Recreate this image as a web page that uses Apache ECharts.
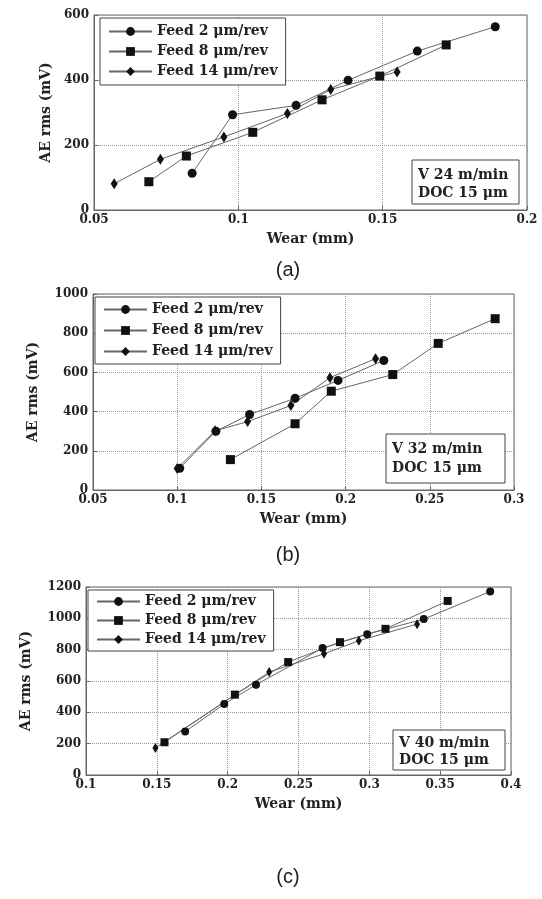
<!DOCTYPE html>
<html>
<head>
<meta charset="utf-8">
<script src="https://cdn.jsdelivr.net/npm/echarts@6/dist/echarts.min.js"></script>
<style>
  html, body { margin: 0; padding: 0; background: #fff; }
  #chart { width: 542px; height: 899px; }
</style>
</head>
<body>
<div id="chart"></div>
<script>
// legend names
const feedNames = ['Feed 2 μm/rev', 'Feed 8 μm/rev', 'Feed 14 μm/rev'];

// (a) V 24 m/min
const aFeed2X = [0.084, 0.098, 0.120, 0.138, 0.162, 0.189];
const aFeed2Y = [113, 293, 322, 399, 489, 564];
const aFeed8X = [0.069, 0.082, 0.105, 0.129, 0.149, 0.172];
const aFeed8Y = [87, 166, 239, 339, 412, 508];
const aFeed14X = [0.057, 0.073, 0.095, 0.117, 0.132, 0.155];
const aFeed14Y = [81, 156, 225, 297, 371, 425];

// (b) V 32 m/min
const bFeed2X = [0.1015, 0.123, 0.143, 0.170, 0.1955, 0.2227];
const bFeed2Y = [111, 300, 385, 468, 559, 661];
const bFeed8X = [0.1316, 0.170, 0.1915, 0.228, 0.255, 0.2888];
const bFeed8Y = [155, 338, 504, 589, 748, 874];
const bFeed14X = [0.100, 0.1225, 0.1418, 0.1675, 0.1907, 0.2178];
const bFeed14Y = [110, 302, 349, 431, 573, 670];

// (c) V 40 m/min
const cFeed2X = [0.170, 0.1976, 0.220, 0.267, 0.2985, 0.3384, 0.3853];
const cFeed2Y = [277, 453, 576, 810, 899, 995, 1171];
const cFeed8X = [0.1554, 0.2051, 0.2427, 0.2793, 0.3114, 0.3553];
const cFeed8Y = [209, 513, 721, 848, 933, 1111];
const cFeed14X = [0.149, 0.2293, 0.268, 0.2926, 0.3337];
const cFeed14Y = [173, 657, 774, 857, 963];

// axis ranges
const xRanges = [[0.05, 0.2], [0.05, 0.3], [0.1, 0.4]];
const yRanges = [[0, 600], [0, 1000], [0, 1200]];

const serif = 'DejaVu Serif';
const ink = '#222';

const pairs = (xs, ys) => xs.map((x, i) => [x, ys[i]]);

const grids = [
  { left: 94, top: 15, width: 433, height: 195 },
  { left: 93, top: 294, width: 421, height: 196 },
  { left: 86, top: 587, width: 425, height: 188 }
];
const yNameGap = [40, 53, 53];

const xAxes = xRanges.map((r, i) => ({
  type: 'value', gridIndex: i, min: r[0], max: r[1], interval: 0.05,
  name: 'Wear (mm)', nameLocation: 'middle', nameGap: 22,
  nameTextStyle: { fontFamily: serif, fontWeight: 'bold', fontSize: 14, color: ink },
  axisLine: { lineStyle: { color: '#666' } },
  axisTick: { inside: true, length: 4, lineStyle: { color: '#666' } },
  axisLabel: { fontFamily: serif, fontWeight: 'bold', fontSize: 12, color: ink, margin: 4,
    formatter: v => String(+v.toFixed(3)) },
  splitLine: { show: true, lineStyle: { type: 'dotted', color: '#999' } }
}));
const yAxes = yRanges.map((r, i) => ({
  type: 'value', gridIndex: i, min: r[0], max: r[1], interval: 200,
  name: 'AE rms (mV)', nameLocation: 'middle', nameGap: yNameGap[i],
  nameTextStyle: { fontFamily: serif, fontWeight: 'bold', fontSize: 14, color: ink },
  axisLine: { show: true, lineStyle: { color: '#666' } },
  axisTick: { show: true, inside: true, length: 4, lineStyle: { color: '#666' } },
  axisLabel: { fontFamily: serif, fontWeight: 'bold', fontSize: 12, color: ink, margin: 5,
    formatter: v => String(v) },
  splitLine: { show: true, lineStyle: { type: 'dotted', color: '#999' } }
}));

const symbols = ['circle', 'rect', 'diamond'];
const panelData = [
  [pairs(aFeed2X, aFeed2Y), pairs(aFeed8X, aFeed8Y), pairs(aFeed14X, aFeed14Y)],
  [pairs(bFeed2X, bFeed2Y), pairs(bFeed8X, bFeed8Y), pairs(bFeed14X, bFeed14Y)],
  [pairs(cFeed2X, cFeed2Y), pairs(cFeed8X, cFeed8Y), pairs(cFeed14X, cFeed14Y)]
];
const markSize = [9, 9, 8];

const series = [];
panelData.forEach((group, p) => {
  group.forEach((data, k) => {
    const s = markSize[p];
    series.push({
      name: feedNames[k], type: 'line', xAxisIndex: p, yAxisIndex: p,
      data: data, symbol: symbols[k],
      symbolSize: k === 2 ? [s - 2, s + 2] : s,
      showAllSymbol: true,
      lineStyle: { color: '#666', width: 1 },
      itemStyle: { color: '#111' },
      emphasis: { disabled: true },
      animation: false
    });
  });
});

const legendPos = [
  { left: 100, top: 18, itemGap: 5, padding: [6, 8, 6, 8] },
  { left: 95, top: 297, itemGap: 6, padding: [5, 8, 5, 8] },
  { left: 88, top: 590, itemGap: 4, padding: [4, 8, 4, 8] }
];
const legends = legendPos.map(l => Object.assign({
  orient: 'vertical', data: feedNames,
  itemWidth: 43, itemHeight: 11,
  backgroundColor: '#fff', borderColor: '#444', borderWidth: 1, borderRadius: 0,
  selectedMode: false,
  textStyle: { fontFamily: serif, fontWeight: 'bold', fontSize: 14, color: ink, lineHeight: 15 }
}, l));

// condition boxes and panel captions
const boxes = [
  { x: 412, y: 160, w: 107, h: 44, l1: 'V 24 m/min', y1: 175, y2: 193 },
  { x: 386, y: 434, w: 119, h: 49, l1: 'V 32 m/min', y1: 449, y2: 468 },
  { x: 393, y: 730, w: 112, h: 40, l1: 'V 40 m/min', y1: 743, y2: 760 }
];
const captions = [['(a)', 270], ['(b)', 555], ['(c)', 877]];

const graphic = [];
boxes.forEach(b => {
  graphic.push({ type: 'rect', shape: { x: b.x, y: b.y, width: b.w, height: b.h },
    style: { fill: '#fff', stroke: '#444', lineWidth: 1 }, z: 10 });
  graphic.push({ type: 'text', x: b.x + 6, y: b.y1, z: 11,
    style: { text: b.l1, fontFamily: serif, fontWeight: 'bold', fontSize: 14, fill: ink, verticalAlign: 'middle' } });
  graphic.push({ type: 'text', x: b.x + 6, y: b.y2, z: 11,
    style: { text: 'DOC 15 μm', fontFamily: serif, fontWeight: 'bold', fontSize: 14, fill: ink, verticalAlign: 'middle' } });
});
captions.forEach(c => {
  graphic.push({ type: 'text', x: 288, y: c[1], z: 11,
    style: { text: c[0], fontFamily: 'Liberation Sans Narrow, Liberation Sans, sans-serif', fontSize: 20,
      fill: ink, align: 'center', verticalAlign: 'middle' } });
});

const chart = echarts.init(document.getElementById('chart'), null, { renderer: 'canvas' });
chart.setOption({
  backgroundColor: '#fff',
  animation: false,
  grid: grids.map(g => Object.assign({ show: true, borderColor: '#666', borderWidth: 1, backgroundColor: 'transparent' }, g)),
  xAxis: xAxes,
  yAxis: yAxes,
  legend: legends,
  series: series,
  graphic: graphic
});
</script>
</body>
</html>
